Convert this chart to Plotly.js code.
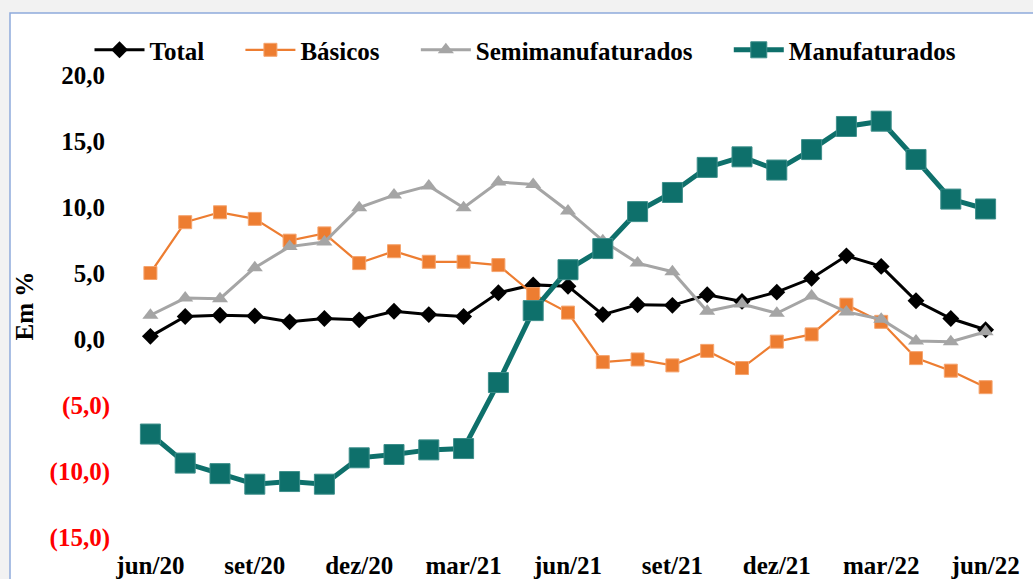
<!DOCTYPE html>
<html><head><meta charset="utf-8">
<script src="https://cdn.plot.ly/plotly-3.0.1.min.js"></script>
<style>html,body{margin:0;padding:0;background:#f2f2f2;}#chart{width:1033px;height:579px;}</style>
</head><body><div id="chart"></div>
<script>
const months = ["jun/20","jul/20","ago/20","set/20","out/20","nov/20","dez/20","jan/21","fev/21","mar/21","abr/21","mai/21","jun/21","jul/21","ago/21","set/21","out/21","nov/21","dez/21","jan/22","fev/22","mar/22","abr/22","mai/22","jun/22"];
const tickMonths = ["jun/20","set/20","dez/20","mar/21","jun/21","set/21","dez/21","mar/22","jun/22"];
const total = [0.2,1.7,1.8,1.75,1.3,1.55,1.45,2.1,1.85,1.7,3.5,4.1,4.0,1.85,2.6,2.55,3.35,2.85,3.55,4.6,6.3,5.5,2.9,1.55,0.7];
const basicos = [5.0,8.85,9.6,9.1,7.45,8.0,5.75,6.65,5.85,5.85,5.6,3.4,2.0,-1.75,-1.55,-2.0,-0.9,-2.2,-0.2,0.35,2.6,1.3,-1.45,-2.4,-3.65];
const semi = [1.8,3.1,3.05,5.4,7.0,7.35,9.95,10.9,11.6,9.95,11.9,11.7,9.7,7.45,5.75,5.1,2.1,2.65,1.95,3.25,2.05,1.5,-0.15,-0.2,0.55];
const manuf = [-7.2,-9.4,-10.2,-11.0,-10.8,-11.0,-9.0,-8.75,-8.4,-8.3,-3.3,2.15,5.25,6.85,9.65,11.1,13.0,13.8,12.8,14.35,16.1,16.5,13.6,10.6,9.85];
const yTickVals = [20,15,10,5,0,-5,-10,-15];
const yTickText = ["20,0\u2009","15,0\u2009","10,0\u2009","5,0\u2009","0,0\u2009","<span style='color:#ff0000'>(5,0)</span>","<span style='color:#ff0000'>(10,0)</span>","<span style='color:#ff0000'>(15,0)</span>"];
const names = ["Total","Básicos","Semimanufaturados","Manufaturados"];
const PAD = "\u00a0\u00a0\u00a0\u00a0\u00a0";

const FONT = "Liberation Serif, serif";
const traces = [
  {x: months, y: total, name: names[0] + PAD, mode: "lines+markers",
   line: {color: "#000000", width: 3}, marker: {symbol: "diamond", size: 13, color: "#000000"}},
  {x: months, y: basicos, name: names[1] + PAD, mode: "lines+markers",
   line: {color: "#ED7D31", width: 2.25}, marker: {symbol: "square", size: 13, color: "#ED7D31", line:{color:"#f5a46e", width:1}}},
  {x: months, y: semi, name: names[2] + PAD, mode: "lines+markers",
   line: {color: "#A5A5A5", width: 3}, marker: {symbol: "triangle-up", size: 14, color: "#A5A5A5"}},
  {x: months, y: manuf, name: names[3], mode: "lines+markers",
   line: {color: "#0E706B", width: 5}, marker: {symbol: "square", size: 20, color: "#0E706B", line:{color:"#3d8e8a", width:1}}}
];

const layout = {
  width: 1033, height: 579,
  margin: {l: 133, r: 30, t: 75, b: 42},
  paper_bgcolor: "#f2f2f2",
  plot_bgcolor: "rgba(0,0,0,0)",
  font: {family: FONT, size: 25, color: "#000000", weight: "bold"},
  showlegend: true,
  legend: {orientation: "h", x: -0.05, xanchor: "left", y: 1.054, yanchor: "middle",
    font: {family: FONT, size: 25, color: "#000", weight: "bold"}, bgcolor: "rgba(0,0,0,0)", traceorder: "normal", itemwidth: 50},
  xaxis: {type: "category", range: [-0.5, 24.5], tickmode: "array", tickvals: tickMonths, ticktext: tickMonths,
    ticks: "", showline: false, showgrid: false, zeroline: false, ticklabelstandoff: 11,
    tickfont: {family: FONT, size: 25, color: "#000", weight: "bold"}},
  xaxis2: {overlaying: "x", anchor: "free", position: 15/35, range: [-0.5, 24.5], type: "linear",
    showline: true, linecolor: "#BFBFBF", linewidth: 1.5, ticks: "outside", ticklen: 7, tickcolor: "#BFBFBF", tickwidth: 1.5,
    tickmode: "array", tickvals: [-0.5,2.5,5.5,8.5,11.5,14.5,17.5,20.5,23.5], showticklabels: false, showgrid: false, zeroline: false},
  yaxis: {range: [-15, 20], tickmode: "array", tickvals: yTickVals, ticktext: yTickText, ticks: "",
    showgrid: false, zeroline: false, showline: false, ticklabelstandoff: 22,
    tickfont: {family: FONT, size: 25, color: "#000", weight: "bold"},
    title: {text: "Em %", font: {family: FONT, size: 25, color: "#000", weight: "bold"}, standoff: 8}},
  shapes: [
    {type: "rect", xref: "paper", yref: "paper", x0: (10-133)/870, x1: 1.2, y0: -0.3, y1: (537-13)/462,
     fillcolor: "#ffffff", line: {color: "#8FAADC", width: 1.5}, layer: "below"}
  ]
};
Plotly.newPlot("chart", traces, layout, {displayModeBar: false, staticPlot: true});
</script></body></html>
